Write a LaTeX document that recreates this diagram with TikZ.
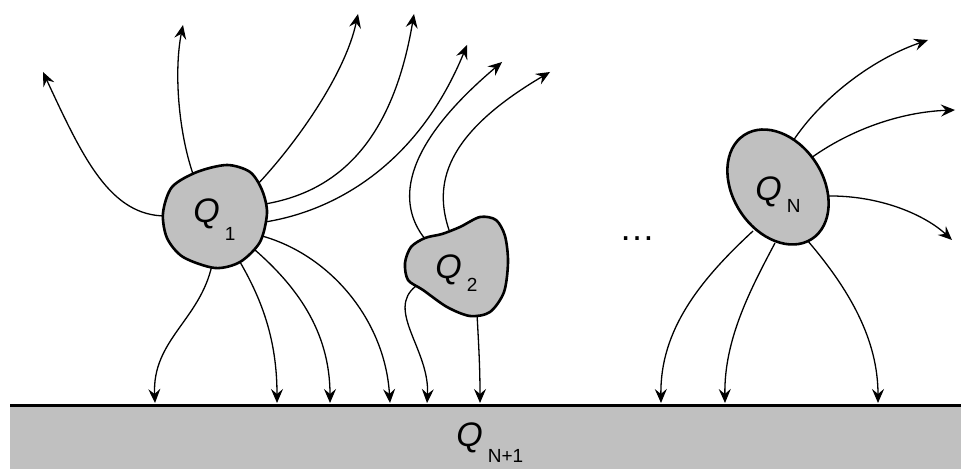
\documentclass[tikz,border=0pt]{standalone}
\usepackage{fontspec}
\setmainfont{Liberation Sans}
\usetikzlibrary{arrows.meta}
\definecolor{chggray}{RGB}{192,192,192}
\newcommand{\chg}[2][8pt]{{\fontsize{17}{18}\selectfont\itshape Q}\kern2.5pt\raisebox{-#1}{\fontsize{9.5}{10}\selectfont #2}}

\begin{document}
\begin{tikzpicture}[x=0.5pt,y=-0.5pt,
  field/.style={line width=0.65pt,-{Stealth[length=7pt,width=6pt,inset=2.5pt]}},
  blob/.style={line width=1.3pt,fill=chggray},
  lbl/.style={anchor=base west,inner sep=0pt}]
\useasboundingbox (0,0) rectangle (961,469);
% ground
\fill[chggray] (10,405) rectangle (961,469);
\draw[line width=1.5pt] (10,405) -- (961,405);
% field lines of Q1
\draw[field] (166,216) .. controls (110,216) and (83,158) .. (43,72);
\draw[field] (193,174) .. controls (178,130) and (174,70) .. (183,25);
\draw[field] (256,186) .. controls (295,145) and (345,75) .. (358,14);
\draw[field] (265,204) .. controls (335,192) and (392,145) .. (414,14);
\draw[field] (265,222) .. controls (340,210) and (420,160) .. (467,45);
\draw[field] (212,265) .. controls (200,320) and (152,340) .. (155,403);
\draw[field] (240,262) .. controls (262,300) and (277,340) .. (277,403);
\draw[field] (255,250) .. controls (295,285) and (330,330) .. (330,403);
\draw[field] (262,236) .. controls (330,255) and (385,320) .. (390,403);
% field lines of Q2
\draw[field] (425,239) .. controls (398,205) and (398,150) .. (502,62);
\draw[field] (449,230) .. controls (434,185) and (443,135) .. (550,72);
\draw[field] (416,286) .. controls (385,310) and (430,350) .. (427,403);
\draw[field] (477,314) .. controls (479,350) and (480,370) .. (480,403);
% field lines of QN
\draw[field] (793,141) .. controls (820,100) and (870,60) .. (928,40);
\draw[field] (811,158) .. controls (850,130) and (900,112) .. (955,110);
\draw[field] (826,196) .. controls (880,195) and (925,215) .. (952,240);
\draw[field] (753,231) .. controls (700,280) and (660,330) .. (661,403);
\draw[field] (775,243) .. controls (750,290) and (724,340) .. (725,403);
\draw[field] (807,240) .. controls (850,290) and (878,340) .. (878,403);
% charges
\draw[blob] plot[smooth cycle] coordinates {(163,213) (172,187) (197,172) (227,165) (250,172) (262,190) (267,213) (260,242) (240,262) (215,268) (183,257) (167,238)};
\draw[blob] plot[smooth cycle] coordinates {(405,263) (411,247) (425,238) (442,234) (460,227) (480,217) (496,220) (505,236) (508,262) (504,292) (490,312) (470,316) (447,307) (423,290) (408,280)};
\draw[blob] (778,187) ellipse [x radius=62, y radius=45, rotate=-57];
% labels
\node[lbl] (q1) at (193,223) {\chg[9pt]{1}};
\node[lbl] (q2) at (435,279) {\chg[6pt]{2}};
\node[lbl] (qn) at (755,201) {\chg[6pt]{N}};
\node[lbl] (qground) at (456,446) {\chg[8pt]{N+1}};
\node[anchor=base,inner sep=0pt] (dots) at (637,241) {\fontsize{18}{20}\selectfont\textellipsis};
\end{tikzpicture}
\end{document}
